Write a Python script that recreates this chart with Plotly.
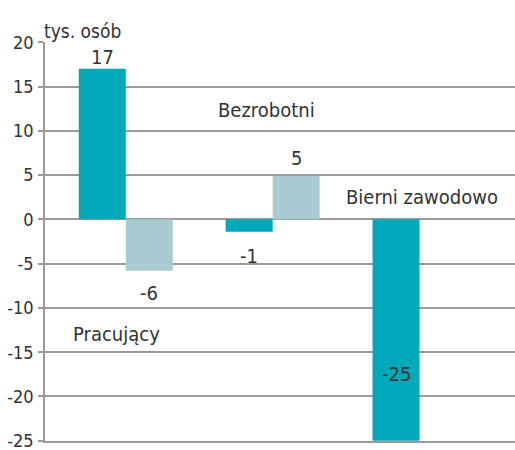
import plotly.graph_objects as go

categories = ["Pracujący", "Bezrobotni", "Bierni zawodowo"]
series_a = [17, -1.4, -25]        # teal
series_b = [-5.8, 4.9, None]      # light
labels_a = ["17", "-1", "-25"]
labels_b = ["-6", "5", ""]
y_ticks = [20, 15, 10, 5, 0, -5, -10, -15, -20, -25]
unit_label = "tys. osób"

TEAL = "#00A9BA"
LIGHT = "#A7CBD0"
GRID = "#9a9a9a"
FONT = "DejaVu Sans Condensed, DejaVu Sans, sans-serif"
TXT = "#333333"
FS = 20

xs = list(range(len(categories)))

fig = go.Figure()
fig.add_bar(x=xs, y=series_a, marker=dict(color=TEAL, line=dict(width=0)), showlegend=False,
            hoverinfo="skip")
fig.add_bar(x=xs, y=series_b, marker=dict(color=LIGHT, line=dict(width=0)), showlegend=False,
            hoverinfo="skip")

ann = []
off = 0.16
for i, (v, t) in enumerate(zip(series_a, labels_a)):
    if i == 2:
        ann.append(dict(x=i - off, y=v * 0.7, text=t, showarrow=False, yanchor="middle"))
    elif v >= 0:
        ann.append(dict(x=i - off, y=v, text=t, showarrow=False, yanchor="bottom", yshift=-2))
    else:
        ann.append(dict(x=i - off, y=v, text=t, showarrow=False, yanchor="top", yshift=-10))
for i, (v, t) in enumerate(zip(series_b, labels_b)):
    if v is None:
        continue
    if v >= 0:
        ann.append(dict(x=i + off, y=v, text=t, showarrow=False, yanchor="bottom", yshift=4))
    else:
        ann.append(dict(x=i + off, y=v, text=t, showarrow=False, yanchor="top", yshift=-8))

# category labels
ann.append(dict(x=-0.06, y=-13.0, text=categories[0], showarrow=False))
ann.append(dict(x=0.96, y=12.3, text=categories[1], showarrow=False))
ann.append(dict(x=2.02, y=2.5, text=categories[2], showarrow=False))
# unit label
ann.append(dict(xref="paper", yref="paper", x=-0.007, y=1.0, xanchor="left", yanchor="bottom",
                yshift=-2, text=unit_label, showarrow=False,
                font=dict(family=FONT, size=19, color=TXT)))

for a in ann:
    a.setdefault("font", dict(family=FONT, size=FS, color=TXT))

fig.update_layout(
    width=515, height=450,
    margin=dict(l=45, r=0, t=42, b=9),
    paper_bgcolor="white", plot_bgcolor="white",
    barmode="group", bargap=0.36, bargroupgap=0,
    annotations=ann,
    font=dict(family=FONT, size=FS, color=TXT),
    xaxis=dict(range=[-0.55, 2.65], visible=True, fixedrange=True,
               showticklabels=False, ticks="", showgrid=False, zeroline=False,
               showline=True, linecolor=GRID, linewidth=1.5),
    yaxis=dict(range=[-25.03, 20.03], tickvals=y_ticks, ticktext=[str(t) for t in y_ticks],
               automargin=False, ticklabeloverflow="allow", fixedrange=True,
               showgrid=True, gridcolor=GRID, gridwidth=1.5,
               zeroline=False, showline=True, linecolor=GRID, linewidth=1.5,
               ticks="outside", ticklen=5, tickcolor=GRID, tickwidth=1.5,
               tickfont=dict(family=FONT, size=18, color=TXT), ticklabelstandoff=1),
)
fig.write_html("out.html", config={"displayModeBar": False},
               post_script="document.body.style.margin='0';")
